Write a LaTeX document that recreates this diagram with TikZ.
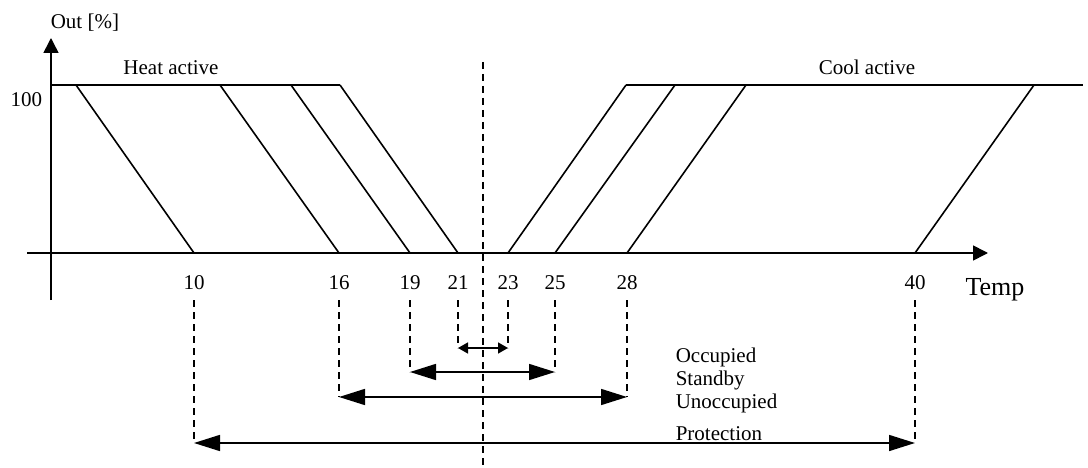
\documentclass[tikz,border=0pt]{standalone}
\usepackage{fontspec}
\setmainfont{Liberation Serif}
\usetikzlibrary{arrows.meta}
\usetikzlibrary{positioning}

\begin{document}
\begin{tikzpicture}[x=1pt,y=-1pt,
        line width=1.6pt,
        lbl/.style={inner sep=0pt, font=\fontsize{21}{25}\selectfont},
        axis/.style={-{Triangle[length=15pt,width=15pt]}},
        dline/.style={dash pattern=on 7pt off 5pt},
        band/.style={{Triangle[length=26pt,width=16pt]}-{Triangle[length=26pt,width=16pt]}},
        smallband/.style={{Triangle[length=10pt,width=11pt]}-{Triangle[length=10pt,width=11pt]}}]
        \useasboundingbox (0,0) rectangle (1088,468);

        % axes
        \coordinate (o) at (51,253);
        \coordinate (ytop) at (51,38);
        \coordinate (ybot) at (51,300);
        \coordinate (xleft) at (27,253);
        \coordinate (xright) at (988,253);
        \draw[axis] (ybot) -- (ytop);
        \draw[axis] (xleft) -- (xright);

        \node[lbl, anchor=base west] (out) at (50,29) {Out [\%]};
        \node[lbl, anchor=base east] (hundred) at (43,107) {100};
        \node[lbl, anchor=base] (heat) at (171,75) {Heat active};
        \node[lbl, anchor=base] (cool) at (867,75) {Cool active};
        \node[lbl, anchor=base, font=\fontsize{26}{30}\selectfont] (temp) at (995,295) {Temp};

        % 100 % levels
        \coordinate (h0) at (51,85);
        \coordinate (hend) at (340,85);
        \coordinate (cstart) at (626,85);
        \coordinate (cend) at (1083,85);
        \draw (h0) -- (hend);
        \draw (cstart) -- (cend);

        % slopes
        \foreach \t/\b in {76/194, 220/339, 291/410, 340/458, 626/508, 675/555, 746/627, 1034/915}
            \draw (\t,85) -- (\b,253);

        % centre line
        \coordinate (ctop) at (483,62);
        \coordinate (cbot) at (483,468);
        \draw[dline] (ctop) -- (cbot);

        % set points
        \foreach \v/\x/\y in {10/194/443, 16/339/397, 19/410/372, 21/458/348,
                23/508/348, 25/555/372, 28/627/397, 40/915/443} {
            \node[lbl, anchor=base] (t\v) at (\x,289) {\v};
            \coordinate (d\v) at (\x,300);
            \coordinate (a\v) at (\x,\y);
            \draw[dline] (d\v) -- (a\v);
        }

        \draw[smallband] (a21) -- (a23);
        \draw[band] (a19) -- (a25);
        \draw[band] (a16) -- (a28);
        \draw[band] (a10) -- (a40);

        \node[lbl, anchor=base west] (occ) at (675,362) {Occupied};
        \node[lbl, anchor=base west] (stb) at (675,385) {Standby};
        \node[lbl, anchor=base west] (unocc) at (675,408) {Unoccupied};
        \node[lbl, anchor=base west] (prot) at (675,440) {Protection};
\end{tikzpicture}
\end{document}
